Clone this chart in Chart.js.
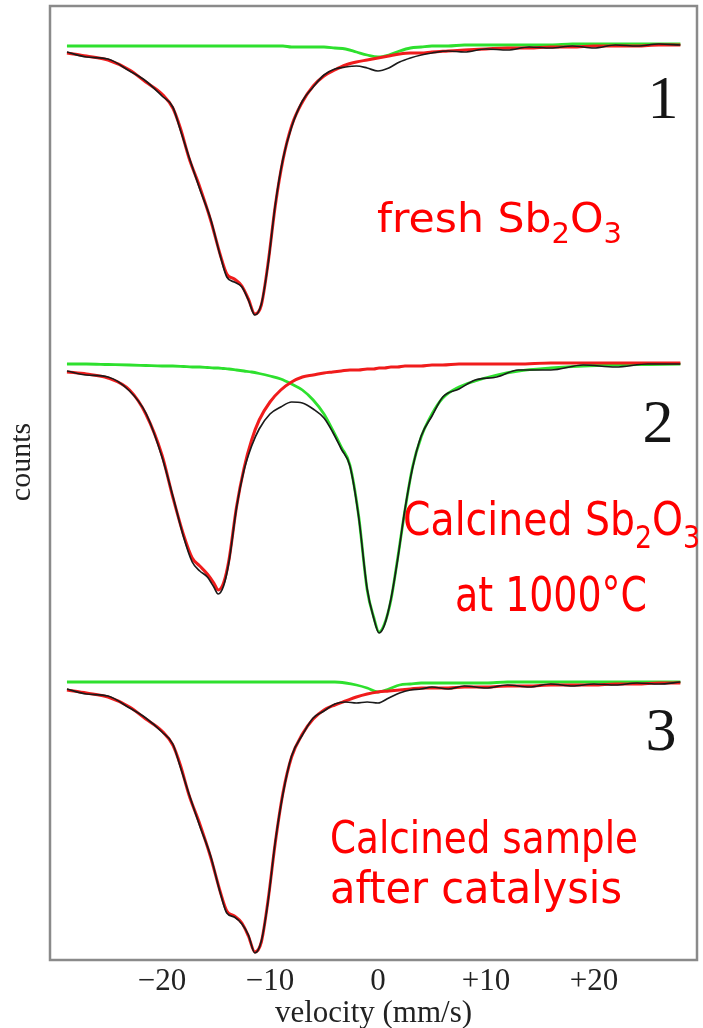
<!DOCTYPE html>
<html>
<head>
<meta charset="utf-8">
<script src="https://cdn.jsdelivr.net/npm/chart.js@4.4.1/dist/chart.umd.min.js"></script>
<style>
html, body { margin: 0; padding: 0; background: #fff; }
#wrap { position: relative; width: 703px; height: 1028px; }
</style>
</head>
<body>
<div id="wrap"><canvas id="spectra" width="703" height="1028"></canvas></div>
<script>
// velocity grids (mm/s)
var velA = [-28.8, -27, -25, -23, -21.5, -20, -19, -18.3, -17.5, -16.5, -15.5, -14.6, -14.0, -13.3, -12.6, -12.0,
	-11.4, -10.8, -10.2, -9.5, -8.8, -8.0, -7.0, -6.0, -5.0, -4.0, -3.0, -2.0, -1.0, 0, 1, 2, 3, 4, 5, 6.5,
	8, 10, 12, 14, 16, 18, 20, 22, 24, 26, 28];
var velB = [-28.8, -27, -25, -23, -21.5, -20, -19, -18, -17.2, -16.5, -15.8, -15.2, -14.8, -14.3, -13.8, -13.1,
	-12.4, -11.7, -11.0, -10.0, -9.0, -8.0, -7.0, -6.0, -5.0, -4.2, -3.4, -2.6, -1.8, -1.0, -0.4, 0.1, 0.6,
	1.2, 1.8, 2.5, 3.2, 4.0, 5.0, 6.0, 7.5, 9, 11, 13, 16, 19, 22, 25, 28];

// counts, arbitrary units, spectra stacked (1 = top, 3 = bottom)
var data1 = [908, 903, 901, 889, 879, 864, 853, 830, 803, 771, 741, 704, 683, 678, 673, 660, 645, 656, 694, 756,
	801, 833, 859, 873, 885, 891, 893, 894, 892, 889, 892, 898, 902, 905, 907, 909, 908, 911, 910, 913, 912,
	914, 912, 915, 914, 916, 915];
var fit1 = [907, 904, 900, 890, 878, 866, 852, 832, 802, 773, 740, 705, 686, 681, 674, 661, 646, 655, 695, 755,
	800, 834, 858, 874, 884, 890, 895, 898, 900, 902, 904, 906, 907, 907, 908, 909, 910, 911, 912, 912, 913,
	913, 914, 914, 914, 915, 915];
var site1 = [914, 914, 914, 914, 914, 914, 914, 914, 914, 914, 914, 914, 914, 914, 914, 914, 914, 914, 914, 914,
	914, 913, 913, 913, 913, 912, 911, 908, 905, 903, 905, 909, 912, 913, 914, 914, 915, 915, 915, 915, 915,
	916, 916, 916, 916, 916, 916];

var data2 = [589, 585, 583, 569, 547, 503, 464, 423, 398, 389, 383, 373, 366, 374, 398, 452, 490, 514, 531, 546,
	553, 558, 557, 551, 542, 528, 511, 494, 444, 371, 342, 327, 335, 361, 399, 451, 492, 524, 544, 563, 571,
	580, 583, 590, 590, 595, 593, 596, 596];
var fit2 = [588, 586, 582, 570, 546, 505, 463, 425, 402, 394, 386, 377, 370, 377, 400, 453, 492, 520, 540, 558,
	570, 578, 583, 585, 587, 588, 589, 590, 590, 591, 591, 592, 592, 593, 593, 594, 594, 594, 595, 595, 596,
	596, 596, 596, 597, 597, 597, 597, 597];
var site2 = [596, 596, 595.5, 595, 594.5, 594, 594, 593.5, 593, 593, 592.5, 592, 592, 591.5, 591, 590, 589, 588,
	586.5, 584, 581, 576, 570, 560, 546, 530, 513, 495, 445, 370, 343, 328, 336, 360, 400, 450, 493, 523, 546,
	562, 573, 579, 585, 589, 592, 594, 595, 595.5, 596];

var data3 = [271, 266, 264, 252, 242, 228, 216, 193, 166, 134, 104, 67, 47, 43, 36, 25, 7, 19, 57, 119, 166, 204,
	225, 242, 249, 256, 258, 257, 258, 257, 262, 267, 270, 271, 273, 271, 274, 272, 275, 273, 276, 274, 276,
	275, 277, 276, 278];
var fit3 = [270, 267, 263, 253, 241, 229, 215, 195, 165, 136, 103, 68, 49, 44, 37, 24, 8, 18, 58, 118, 167, 203,
	226, 241, 250, 255, 259, 263, 266, 268, 269, 270, 271, 272, 272, 272, 273, 273, 274, 274, 275, 275, 275,
	276, 276, 277, 277];
var site3 = [278, 278, 278, 278, 278, 278, 278, 278, 278, 278, 278, 278, 278, 278, 278, 278, 278, 278, 278, 278,
	278, 278, 278, 278, 278, 278, 277, 275, 272, 268, 271, 275, 276, 277, 277, 277, 277, 277, 278, 278, 278,
	278, 278, 278, 278, 278, 278];

var tickVel = [-20, -10, 0, 10, 20];
var panelNames = ['1', '2', '3'];

var serif = '"Liberation Serif", "Times New Roman", serif';
var noteFont = '"DejaVu Sans", sans-serif';

function pts(vel, vals) {
	return vel.map(function(v, i) {
		return {x: v, y: vals[i]};
	});
}

function lineSet(vel, vals, color, width, order) {
	return {
		data: pts(vel, vals),
		borderColor: color,
		borderWidth: width,
		pointRadius: 0,
		cubicInterpolationMode: 'monotone',
		fill: false,
		order: order
	};
}

// draws a note made of normal / subscript runs, stretched to fit [x, right]
function drawNote(ctx, parts, x, right, y, size) {
	var total = 0;
	parts.forEach(function(p) {
		ctx.font = (p[1] ? size * 0.68 : size) + 'px ' + noteFont;
		total += ctx.measureText(p[0]).width;
	});
	ctx.save();
	ctx.translate(x, y);
	ctx.scale((right - x) / total, 1);
	var cx = 0;
	parts.forEach(function(p) {
		ctx.font = (p[1] ? size * 0.68 : size) + 'px ' + noteFont;
		ctx.fillText(p[0], cx, p[1] ? size * 0.27 : 0);
		cx += ctx.measureText(p[0]).width;
	});
	ctx.restore();
}

var overlay = {
	id: 'overlay',
	afterDraw: function(chart) {
		var ctx = chart.ctx;
		var a = chart.chartArea;
		ctx.save();

		// frame
		ctx.strokeStyle = '#8a8a8a';
		ctx.lineWidth = 2.5;
		ctx.strokeRect(a.left, a.top, a.right - a.left, a.bottom - a.top);

		// panel numbers
		ctx.fillStyle = '#151515';
		ctx.font = '62px ' + serif;
		ctx.textAlign = 'center';
		ctx.textBaseline = 'alphabetic';
		ctx.fillText(panelNames[0], 663, 118);
		ctx.fillText(panelNames[1], 658, 442);
		ctx.fillText(panelNames[2], 661, 750);

		// y label
		ctx.save();
		ctx.translate(22, 462);
		ctx.rotate(-Math.PI / 2);
		ctx.font = '30px ' + serif;
		ctx.textBaseline = 'middle';
		ctx.fillStyle = '#222';
		ctx.fillText('counts', 0, 0);
		ctx.restore();

		// red notes
		ctx.fillStyle = '#ff0000';
		ctx.textAlign = 'left';
		drawNote(ctx, [['fresh Sb', 0], ['2', 1], ['O', 0], ['3', 1]], 377, 622, 232, 41);
		drawNote(ctx, [['Calcined Sb', 0], ['2', 1], ['O', 0], ['3', 1]], 403, 700, 535, 47);
		drawNote(ctx, [['at 1000°C', 0]], 455, 647, 611, 48);
		drawNote(ctx, [['Calcined sample', 0]], 330, 638, 853, 44);
		drawNote(ctx, [['after catalysis', 0]], 330, 622, 903, 44);

		ctx.restore();
	}
};

var black = '#1a1a1a';
var red = '#f01c1c';
var green = '#2ee02e';

var config = {
	type: 'line',
	data: {
		datasets: [
			lineSet(velA, site1, green, 2.8, 2),
			lineSet(velA, fit1, red, 3, 1),
			lineSet(velA, data1, black, 1.7, 0),
			lineSet(velB, site2, green, 2.8, 2),
			lineSet(velB, fit2, red, 3, 1),
			lineSet(velB, data2, black, 1.7, 0),
			lineSet(velA, site3, green, 2.8, 2),
			lineSet(velA, fit3, red, 3, 1),
			lineSet(velA, data3, black, 1.7, 0)
		]
	},
	options: {
		responsive: false,
		animation: false,
		layout: {padding: {left: 0, right: 6, top: 6, bottom: 0}},
		plugins: {
			legend: {display: false},
			tooltip: {enabled: false}
		},
		scales: {
			x: {
				type: 'linear',
				min: -30.37,
				max: 29.54,
				afterBuildTicks: function(scale) {
					scale.ticks = tickVel.map(function(v) { return {value: v}; });
				},
				afterFit: function(scale) {
					scale.height = 68;
				},
				grid: {display: false, drawTicks: false},
				border: {display: false},
				ticks: {
					padding: 3,
					color: '#222',
					font: {family: serif, size: 31},
					maxRotation: 0,
					callback: function(v) {
						if (v < 0) return '\u2212' + Math.abs(v);
						if (v > 0) return '+' + v;
						return '0';
					}
				},
				title: {
					display: true,
					text: 'velocity (mm/s)',
					color: '#222',
					font: {family: serif, size: 31},
					padding: {top: -4, bottom: -4}
				}
			},
			y: {
				min: 0,
				max: 954,
				afterFit: function(scale) {
					scale.width = 50;
				},
				grid: {display: false},
				border: {display: false},
				ticks: {display: false}
			}
		}
	},
	plugins: [overlay]
};

new Chart(document.getElementById('spectra').getContext('2d'), config);
</script>
</body>
</html>
